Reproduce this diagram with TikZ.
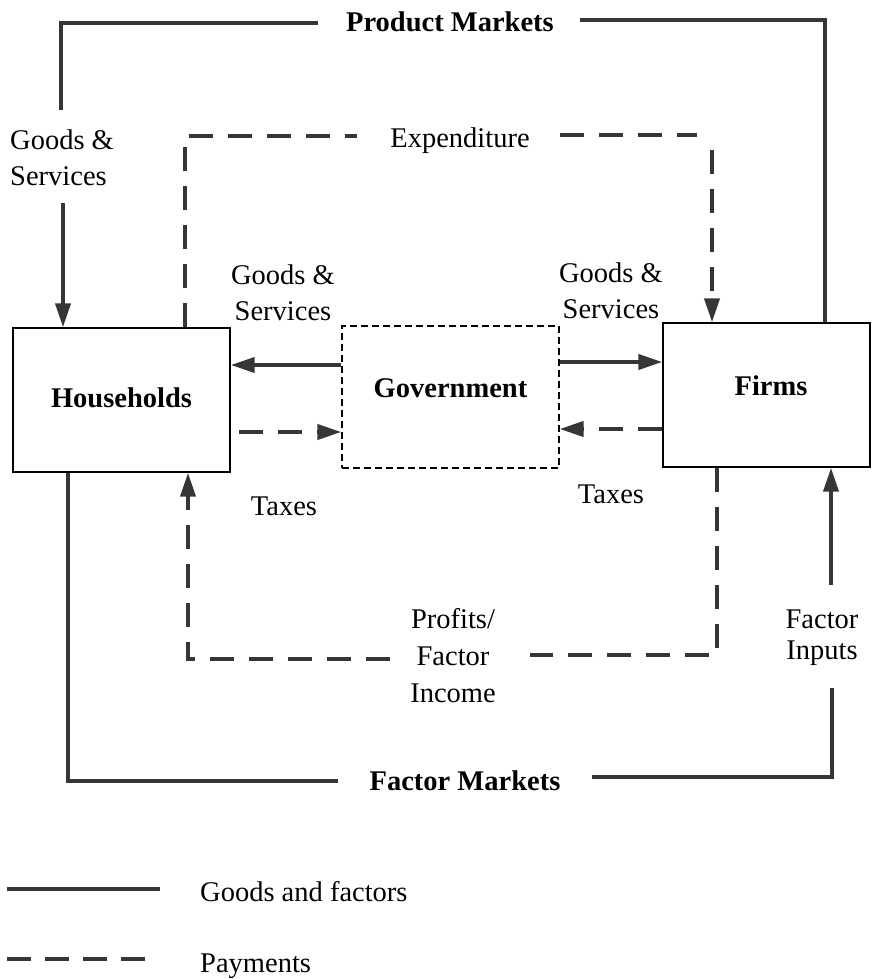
\documentclass[tikz,border=0pt]{standalone}
\usepackage{fontspec}
\setmainfont{Liberation Serif}
\usetikzlibrary{arrows.meta}
\definecolor{ink}{HTML}{363636}
\begin{document}
\begin{tikzpicture}[x=1pt,y=-1pt,
  flow/.style={draw=ink,line width=4pt},
  pay/.style={draw=ink,line width=4pt,dash pattern=on 24pt off 15pt},
  tip/.style={-{Triangle[length=24pt,width=15pt]}},
  box/.style={draw=black,line width=1.4pt,inner sep=0pt},
  govbox/.style={draw=black,line width=1.3pt,dash pattern=on 7pt off 4pt,inner sep=0pt},
  lbl/.style={font=\fontsize{28.5}{36}\selectfont,inner sep=0pt,align=center},
  blbl/.style={font=\fontsize{28.5}{36}\selectfont\bfseries,inner sep=0pt}]
\useasboundingbox (0,0) rectangle (872,979);

% boxes
\node[box,minimum width=217pt,minimum height=144pt] (hh) at (121.5,400) {};
\node[govbox,minimum width=217pt,minimum height=142pt] (gov) at (450.5,397) {};
\node[box,minimum width=207pt,minimum height=144pt] (firms) at (766.5,395) {};
\node[blbl,anchor=base] (hhtxt) at (121.5,407) {Households};
\node[blbl,anchor=base] (govtxt) at (450.5,397) {Government};
\node[blbl,anchor=base] (firmstxt) at (771,395) {Firms};

% labels
\node[blbl,anchor=base] (pm) at (450,32) {Product Markets};
\node[blbl,anchor=base] (fm) at (465,790) {Factor Markets};
\node[lbl,anchor=base] (ex) at (460,147) {Expenditure};
\node[lbl,anchor=north west,align=left] (gs1) at (10,130) {Goods \&\\Services};
\node[lbl,anchor=north] (gs2) at (283,265) {Goods \&\\Services};
\node[lbl,anchor=north] (gs3) at (611,263) {Goods \&\\Services};
\node[lbl,anchor=base] (tx1) at (284,515) {Taxes};
\node[lbl,anchor=base] (tx2) at (611,503) {Taxes};
\node[lbl,anchor=north,font=\fontsize{28.5}{37}\selectfont] (pr) at (453,608) {Profits/\\Factor\\Income};
\node[lbl,anchor=north,font=\fontsize{28.5}{31}\selectfont] (fi) at (822,610) {Factor\\Inputs};

% coordinates
\coordinate (pmA) at (61,110);
\coordinate (pmL) at (318,23);
\coordinate (pmR) at (580,20);
\coordinate (pmX) at (825,0);
\coordinate (gsA) at (63,203);
\coordinate (exX) at (185,0);
\coordinate (exL) at (357,136);
\coordinate (exR) at (560,135);
\coordinate (exE) at (697,135);
\coordinate (exV) at (712,150);
\coordinate (fmX) at (68,0);
\coordinate (fmL) at (338,781);
\coordinate (fmR) at (592,777);
\coordinate (fiT) at (832,688);
\coordinate (fiA) at (831,585);
\coordinate (prX) at (717,0);
\coordinate (prR) at (530,655);
\coordinate (prL) at (390,659);
\coordinate (prV) at (188,0);

% product market loop
\draw[flow] (pmA) |- (pmL);
\draw[flow] (pmR) -| (pmX |- firms.north);
\draw[flow,tip] (gsA) -- (gsA |- hh.north);

% expenditure
\draw[pay] (exX |- hh.north) |- (exL);
\draw[pay] (exR) -- (exE);
\draw[pay,tip] (exV) -- (exV |- firms.north);

% government flows
\draw[flow,tip] (gov.west |- 0,365) -- (hh.east |- 0,365);
\draw[flow,tip] (gov.east |- 0,362) -- (firms.west |- 0,362);
\draw[pay,tip,shorten <=8pt] (hh.east |- 0,432) -- (gov.west |- 0,432);
\draw[pay,tip] (firms.west |- 0,429) -- (gov.east |- 0,429);

% factor market loop
\draw[flow] (fmX |- hh.south) |- (fmL);
\draw[flow] (fmR) -| (fiT);
\draw[flow,tip] (fiA) -- (fiA |- firms.south);

% profits / factor income
\draw[pay] (prX |- firms.south) |- (prR);
\draw[pay,tip] (prL) -| (prV |- hh.south);

% legend
\coordinate (l1a) at (7,889);
\coordinate (l1b) at (160,889);
\coordinate (l2a) at (7,959);
\coordinate (l2b) at (145,959);
\draw[flow] (l1a) -- (l1b);
\draw[pay,dash pattern=on 24pt off 14pt] (l2a) -- (l2b);
\node[lbl,anchor=base west] (l1t) at (200,901) {Goods and factors};
\node[lbl,anchor=base west] (l2t) at (200,972) {Payments};
\end{tikzpicture}
\end{document}
